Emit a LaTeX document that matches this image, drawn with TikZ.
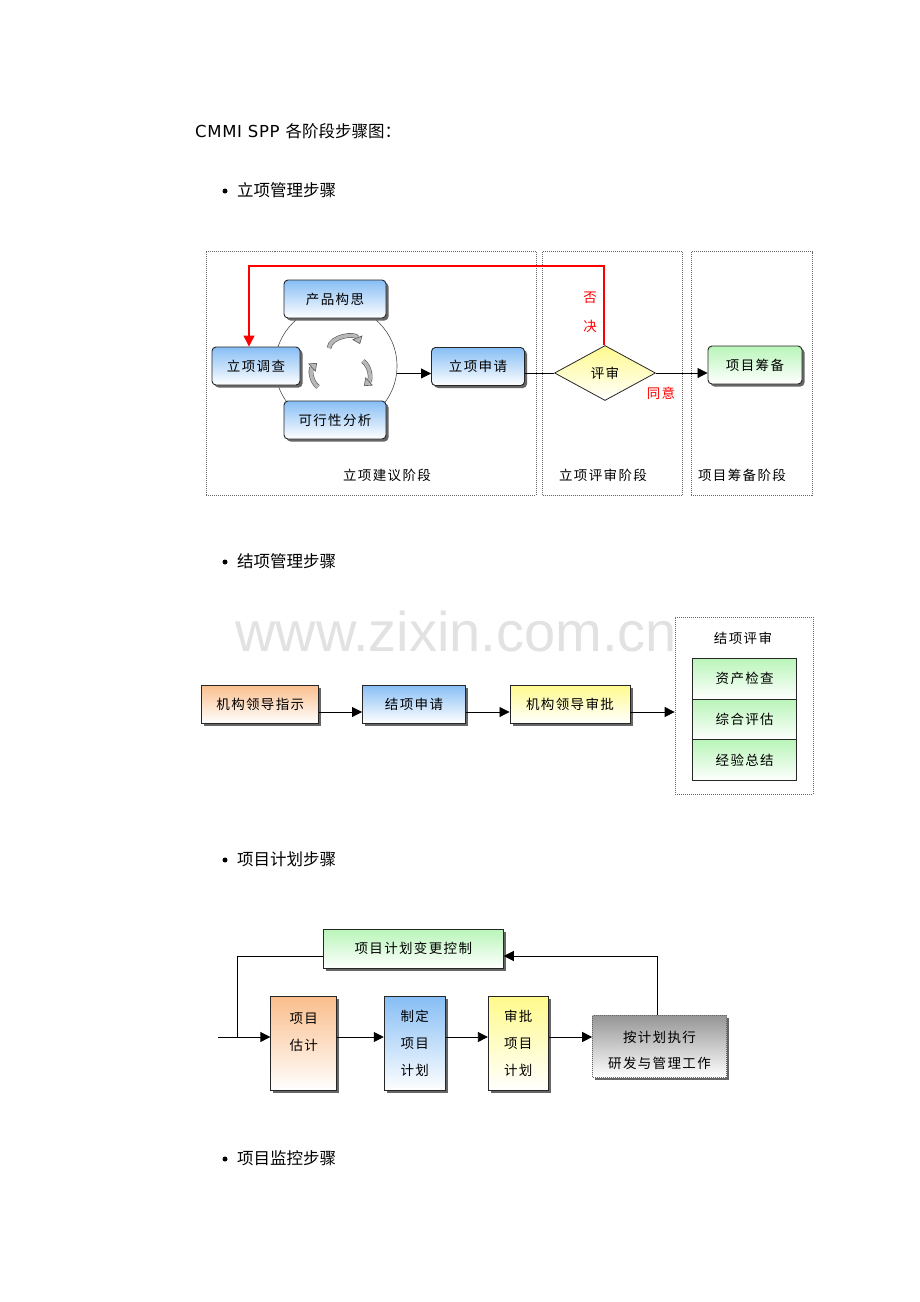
\documentclass[tikz,border=0pt]{standalone}
\usepackage{fontspec}
\setmainfont{DejaVu Sans}
\newfontfamily\latls[LetterSpace=4]{DejaVu Sans}
\newfontfamily\cjk{Noto Sans CJK SC}
\newfontfamily\cjkls[LetterSpace=10]{Noto Sans CJK SC}
\newfontfamily\wmfont{Liberation Sans}
\usetikzlibrary{shapes.geometric,arrows.meta,shadows,calc}
\definecolor{cblue}{RGB}{135,190,245}
\definecolor{cgreen}{RGB}{185,245,185}
\definecolor{corange}{RGB}{250,190,140}
\definecolor{cyellow}{RGB}{255,250,140}
\definecolor{cgray}{RGB}{150,150,150}
\definecolor{cwm}{RGB}{226,226,226}
\begin{document}
\begin{tikzpicture}[x=1pt,y=-1pt,
  every node/.style={inner sep=0pt},
  hd/.style={font=\cjk\fontsize{16.5}{18}\selectfont},
  lbl/.style={font=\cjkls\fontsize{13.5}{15}\selectfont},
  shd/.style={drop shadow={shadow xshift=2.5pt,shadow yshift=-2.5pt,fill=black!60,opacity=1}},
  bx/.style={draw=black!85,line width=0.9pt,lbl,shd},
  rbx/.style={bx,rounded corners=4pt},
  blueg/.style={top color=cblue,bottom color=white},
  greeng/.style={top color=cgreen,bottom color=white},
  orangeg/.style={top color=corange,bottom color=white},
  yellowg/.style={top color=cyellow,bottom color=white},
  grayg/.style={top color=cgray,bottom color=white},
  arr/.style={draw=black,line width=0.8pt,-{Triangle[length=10pt,width=10pt]}},
  ln/.style={draw=black,line width=0.8pt},
  frm/.style={draw=black!60,line width=0.7pt,dash pattern=on 1pt off 1pt},
  rot/.style={draw=black!65,line width=0.6pt,double=black!28,double distance=3.5pt,-{Triangle[length=7pt,width=11pt,fill=black!28]}},
  redt/.style={lbl,text=red},
  tall/.style={bx,minimum height=94pt},
  tt/.style={align=center,font=\cjkls\fontsize{13.5}{27}\selectfont}
]
\useasboundingbox (0,0) rectangle (920,1302);

% headings
\node[anchor=base west,font=\latls\fontsize{16.5}{18}\selectfont] (title) at (195,137) {CMMI SPP {\cjk\fontsize{16.5}{18}\selectfont 各阶段步骤图：}};
\node[circle,fill=black,minimum size=5pt] (b1) at (225,191) {};
\node[hd,anchor=west] (t1) at (237,190) {立项管理步骤};
\node[circle,fill=black,minimum size=5pt] (b2) at (225,562) {};
\node[hd,anchor=west] (t2) at (237,561) {结项管理步骤};
\node[circle,fill=black,minimum size=5pt] (b3) at (225,860) {};
\node[hd,anchor=west] (t3) at (237,859) {项目计划步骤};
\node[circle,fill=black,minimum size=5pt] (b4) at (225,1159) {};
\node[hd,anchor=west] (t4) at (237,1158) {项目监控步骤};

% ---------- diagram 1 ----------
\node[frm,minimum width=330pt,minimum height=243.5pt] (f1) at (371,373.25) {};
\node[frm,minimum width=139.8pt,minimum height=243.5pt] (f2) at (612.4,373.25) {};
\node[frm,minimum width=121pt,minimum height=243.5pt] (f3) at (751.5,373.25) {};
\node[lbl] (p1) at (387,475) {立项建议阶段};
\node[lbl] (p2) at (603,475) {立项评审阶段};
\node[lbl] (p3) at (742,475) {项目筹备阶段};

\node[circle,draw=black!70,line width=0.6pt,fill=white,minimum size=122pt] (cyc) at (336,366) {};
\draw[rot] (329,348) to[bend left=75] (360,344);
\draw[rot] (318,387) to[bend left=50] (317,363);
\draw[rot] (363,361) to[bend left=50] (364,386);

\node[rbx,blueg,minimum width=102pt,minimum height=38pt] (idea) at (335,299) {产品构思};
\node[rbx,blueg,minimum width=88pt,minimum height=38pt] (svy) at (256,366) {立项调查};
\node[rbx,blueg,minimum width=102pt,minimum height=38pt] (feas) at (335,420) {可行性分析};
\node[rbx,blueg,minimum width=93pt,minimum height=38pt] (apply) at (478,366.5) {立项申请};
\node[diamond,aspect=1.84,minimum width=101pt,minimum height=55pt,draw=black!85,line width=0.8pt,top color=cyellow,bottom color=white,lbl] (rev) at (605,373) {评审};
\node[rbx,greeng,minimum width=94pt,minimum height=38pt] (prep) at (755,365) {项目筹备};

\draw[arr] (cyc.-7.5) -- (cyc.-7.5 -| apply.west);
\draw[ln] (apply.east |- rev.west) -- (rev.west);
\draw[arr] (rev.east) -- (rev.east -| prep.west);
\coordinate (rtop) at (604,266);
\draw[red,line width=1.2pt,-{Triangle[length=11pt,width=11pt]}] (rev.north -| rtop) -- (rtop) -| ([xshift=-7pt]svy.north);
\node[redt] (no1) at (590,298) {否};
\node[redt] (no2) at (590,326) {决};
\node[redt] (yes) at (661,393) {同意};

% ---------- diagram 2 ----------
\node[font=\wmfont\fontsize{56}{56}\selectfont,text=cwm,anchor=base west] (wm) at (235,651) {www.zixin.com.cn};
\node[frm,fill=white,minimum width=138pt,minimum height=177pt] (fr2) at (744,705.5) {};
\node[lbl] (frt) at (743,638) {结项评审};
\node[draw=black!85,line width=0.9pt,greeng,lbl,minimum width=104pt,minimum height=41pt] (s1) at (744.7,678.8) {资产检查};
\node[draw=black!85,line width=0.9pt,greeng,lbl,minimum width=104pt,minimum height=41pt] (s2) at (744.7,719.7) {综合评估};
\node[draw=black!85,line width=0.9pt,greeng,lbl,minimum width=104pt,minimum height=41pt] (s3) at (744.7,760.4) {经验总结};

\node[bx,orangeg,minimum width=117pt,minimum height=38pt] (lead) at (260.3,704) {机构领导指示};
\node[bx,blueg,minimum width=103pt,minimum height=38pt] (close) at (414,704) {结项申请};
\node[bx,yellowg,minimum width=120pt,minimum height=38pt] (appr) at (570,704) {机构领导审批};
\coordinate (a1) at ($(lead.east)+(0,8)$);
\coordinate (a2) at ($(close.east)+(0,8)$);
\coordinate (a3) at ($(appr.east)+(0,8)$);
\draw[arr] (a1) -- (a1 -| close.west);
\draw[arr] (a2) -- (a2 -| appr.west);
\draw[arr] (a3) -- (a3 -| fr2.west);

% ---------- diagram 3 ----------
\node[bx,greeng,minimum width=180pt,minimum height=39pt] (ctrl) at (413.3,948.8) {项目计划变更控制};
\node[tall,orangeg,minimum width=66pt] (est) at (303.8,1043.7) {};
\node[tt] (estT) at ($(est.center)+(0,-12)$) {项目\\估计};
\node[tall,blueg,minimum width=61pt] (mk) at (414.7,1043.7) {};
\node[tt] (mkT) at (mk.center) {制定\\项目\\计划};
\node[tall,yellowg,minimum width=60pt] (ap) at (518.3,1043.7) {};
\node[tt] (apT) at (ap.center) {审批\\项目\\计划};
\node[bx,frm,grayg,shd,minimum width=134pt,minimum height=62pt] (exec) at (659.5,1046.5) {};
\node[tt,font=\cjkls\fontsize{13.5}{26.6}\selectfont] (execT) at ($(exec.center)+(0,4)$) {按计划执行\\研发与管理工作};

\coordinate (m0) at (218,1037);
\coordinate (fl) at (237,956);
\coordinate (fr) at (657,956);
\draw[arr] (m0) -- (m0 -| est.west);
\draw[arr] (est.east |- m0) -- (mk.west |- m0);
\draw[arr] (mk.east |- m0) -- (ap.west |- m0);
\draw[arr] (ap.east |- m0) -- (exec.west |- m0);
\draw[ln] (m0 -| fl) -- (fl) -- (fl -| ctrl.west);
\draw[arr] (fr |- exec.north) -- (fr) -- (fr -| ctrl.east);
\end{tikzpicture}
\end{document}
